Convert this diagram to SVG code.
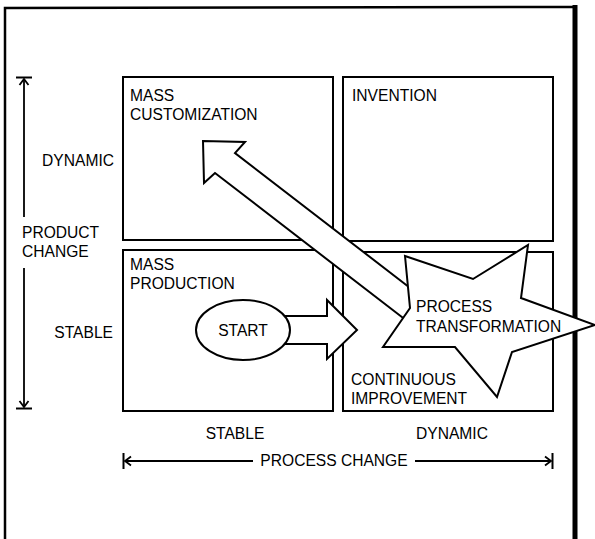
<svg xmlns="http://www.w3.org/2000/svg" width="595" height="539" viewBox="0 0 595 539">
<style>
.box{fill:#fff;stroke:#000;stroke-width:2}
.shape{fill:#fff;stroke:#000;stroke-width:2;stroke-linejoin:miter}
.axis{fill:none;stroke:#000;stroke-width:1.8}
text{font-family:"Liberation Sans",Arial,Helvetica,sans-serif;font-size:15.6px;fill:#000}
.mid{text-anchor:middle}
.end{text-anchor:end}
</style>
<defs>
<marker id="barhead" viewBox="-10 -10 20 20" markerWidth="20" markerHeight="20" refX="0" refY="0" markerUnits="userSpaceOnUse" orient="auto-start-reverse">
<path d="M -6 -4.5 L 0 0 L -6 4.5" fill="none" stroke="#000" stroke-width="1.8"/>
<path d="M 1.5 -8 L 1.5 8" fill="none" stroke="#000" stroke-width="2"/>
</marker>
</defs>
<g id="frame">
<path d="M 5 539 L 5 8 L 576 7" fill="none" stroke="#000" stroke-width="2.5"/>
<path d="M 575 5 L 575 539" fill="none" stroke="#000" stroke-width="5"/>
</g>
<g id="mass-customization">
<rect class="box" x="123" y="77" width="210" height="163"/>
<text x="130" y="101">MASS</text>
<text x="130" y="120">CUSTOMIZATION</text>
</g>
<g id="invention">
<rect class="box" x="343" y="77" width="210" height="164"/>
<text x="352" y="101">INVENTION</text>
</g>
<g id="mass-production">
<rect class="box" x="123" y="250" width="210" height="161"/>
<text x="130" y="270">MASS</text>
<text x="130" y="289">PRODUCTION</text>
</g>
<g id="continuous-improvement">
<rect class="box" x="343" y="252" width="210" height="159"/>
<text x="351" y="385">CONTINUOUS</text>
<text x="351" y="404">IMPROVEMENT</text>
</g>
<g id="axis-labels">
<text class="end" x="114" y="166">DYNAMIC</text>
<text x="22" y="238">PRODUCT</text>
<text x="22" y="257">CHANGE</text>
<text class="end" x="113" y="338">STABLE</text>
<text class="mid" x="235" y="439">STABLE</text>
<text class="mid" x="452" y="439">DYNAMIC</text>
<text class="mid" x="334" y="466">PROCESS CHANGE</text>
</g>
<g id="connectors">
<line class="axis" x1="24" y1="79" x2="24" y2="217" marker-start="url(#barhead)"/>
<line class="axis" x1="24" y1="268" x2="24" y2="407" marker-end="url(#barhead)"/>
<line class="axis" x1="125" y1="461" x2="253" y2="461" marker-start="url(#barhead)"/>
<line class="axis" x1="415" y1="461" x2="551" y2="461" marker-end="url(#barhead)"/>
<polygon id="arrow-right" class="shape" points="270,316 327,316 327,300 357,330 327,359 327,344 270,344"/>
<polygon id="arrow-diagonal" class="shape" points="203,141 245,142 235,153 440,311 420,331 215,173 204,183"/>
</g>
<g id="start">
<ellipse class="shape" cx="243" cy="330" rx="47" ry="30"/>
<text class="mid" x="243" y="336">START</text>
</g>
<g id="process-transformation">
<polygon class="shape" points="405,256 473,279 528,245 521,298 595,325 512,352 497,397 455,347 383,347 410,308"/>
<text x="416" y="312">PROCESS</text>
<text x="416" y="332">TRANSFORMATION</text>
</g>
</svg>
